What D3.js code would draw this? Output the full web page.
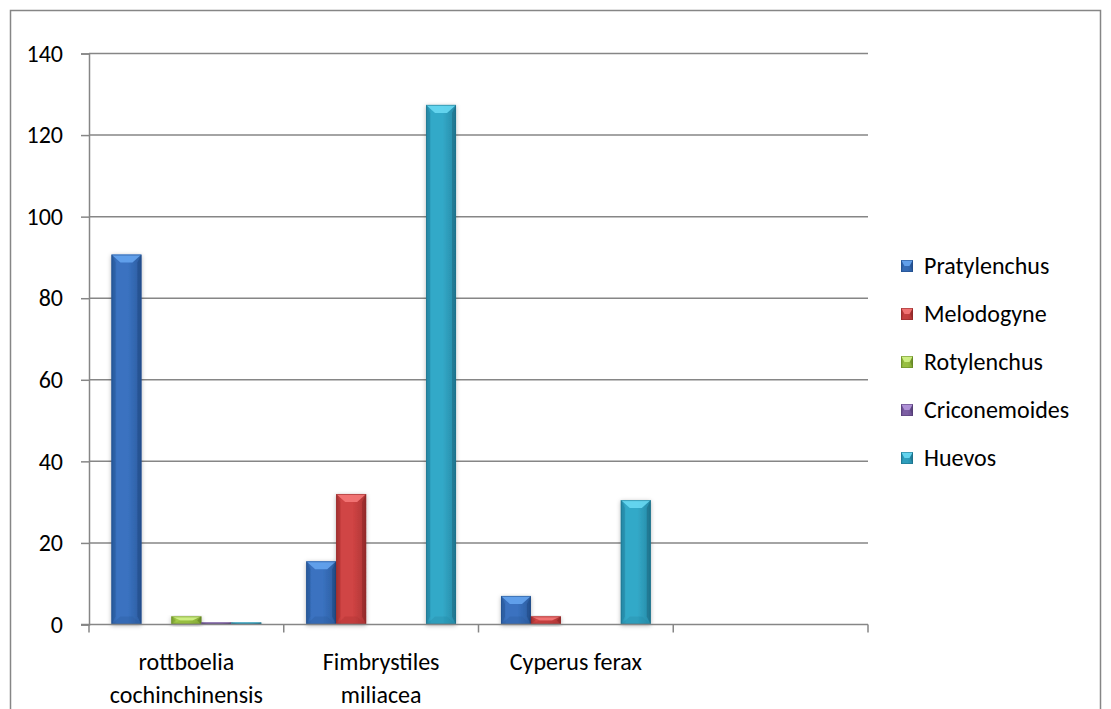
<!DOCTYPE html>
<html>
<head>
<meta charset="utf-8">
<script src="https://cdn.jsdelivr.net/npm/d3@7"></script>
<style>
  html, body { margin: 0; padding: 0; background: #ffffff; }
  svg { display: block; }
  text { font-family: Carlito, Lato, "Liberation Sans", sans-serif; fill: #000; }
</style>
</head>
<body>
<svg id="chart" width="1111" height="709"></svg>
<script>
// Categories (the last slot is an empty category, as in the workbook)
const categories = ["rottboelia cochinchinensis", "Fimbrystiles miliacea", "Cyperus ferax", ""];

// Nematode counts per weed species
const seriesNames = ["Pratylenchus", "Melodogyne", "Rotylenchus", "Criconemoides", "Huevos"];
const pratylenchus  = [90.7, 15.5, 7, null];
const melodogyne    = [0, 32, 2, null];
const rotylenchus   = [2, 0, 0, null];
const criconemoides = [0.5, 0, 0, null];
const huevos        = [0.5, 127.4, 30.5, null];
const yTicks = [0, 20, 40, 60, 80, 100, 120, 140];

const seriesValues = [pratylenchus, melodogyne, rotylenchus, criconemoides, huevos];

// Palette: base, light top bevel, dark side bevel
const palette = [
  { base: "#3a72c0", top: "#66a4ee", side: "#2b5c9f", dark: "#1f4a86" },
  { base: "#d04444", top: "#f47878", side: "#ab3434", dark: "#8a2626" },
  { base: "#a3cb48", top: "#d2f288", side: "#80a534", dark: "#5f7f22" },
  { base: "#8767b0", top: "#b496dc", side: "#664c8c", dark: "#4f3a70" },
  { base: "#33a9c8", top: "#68d8f2", side: "#2689a6", dark: "#1a6b84" }
];

const FONT_SIZE = "24px";

const svg = d3.select("#chart");

// Outer chart border
svg.append("rect")
  .attr("x", 10.5).attr("y", 10.5)
  .attr("width", 1090).attr("height", 730)
  .attr("fill", "#fff").attr("stroke", "#868686").attr("stroke-width", 1.5);

const plot = { left: 89, right: 868, top: 53.5, bottom: 624.5 };

const x0 = d3.scaleBand()
  .domain(d3.range(categories.length))
  .range([plot.left, plot.right])
  .paddingInner(0).paddingOuter(0);

// Gap width of 150% of a bar: 5 bars + 1.5 bar gap per category
const barW = x0.bandwidth() / (seriesNames.length + 1.5);
const x1 = d3.scaleBand()
  .domain(d3.range(seriesNames.length))
  .range([0.75 * barW, 0.75 * barW + barW * seriesNames.length])
  .paddingInner(0).paddingOuter(0);

const y = d3.scaleLinear().domain([0, 140]).range([plot.bottom, plot.top]);

const defs = svg.append("defs");
const shadow = defs.append("filter").attr("id", "barShadow")
  .attr("x", "-30%").attr("y", "-10%").attr("width", "160%").attr("height", "130%");
shadow.append("feDropShadow")
  .attr("dx", 0).attr("dy", 1).attr("stdDeviation", 2.2)
  .attr("flood-color", "#000").attr("flood-opacity", 0.28);

palette.forEach((p, i) => {
  const g = defs.append("linearGradient").attr("id", "grad" + i)
    .attr("x1", 0).attr("x2", 1).attr("y1", 0).attr("y2", 0);
  g.append("stop").attr("offset", "0%").attr("stop-color", p.side);
  g.append("stop").attr("offset", "18%").attr("stop-color", p.base);
  g.append("stop").attr("offset", "55%").attr("stop-color", p.base);
  g.append("stop").attr("offset", "100%").attr("stop-color", p.side);
});

// Gridlines
const grid = svg.append("g");
grid.selectAll("line")
  .data(yTicks.filter(d => d !== 0))
  .join("line")
  .attr("x1", plot.left).attr("x2", plot.right)
  .attr("y1", d => y(d)).attr("y2", d => y(d))
  .attr("stroke", "#868686").attr("stroke-width", 1.5);

// Y axis
const yAxis = svg.append("g")
  .attr("transform", `translate(${plot.left},0)`)
  .call(d3.axisLeft(y).tickValues(yTicks).tickSize(8).tickPadding(18).tickFormat(d3.format("d")));
yAxis.select(".domain").attr("stroke", "#868686").attr("stroke-width", 1.5);
yAxis.selectAll(".tick line").attr("stroke", "#868686").attr("stroke-width", 1.5);
yAxis.selectAll(".tick text")
  .style("font-family", "Carlito, Lato, 'Liberation Sans', sans-serif")
  .style("font-size", FONT_SIZE).attr("fill", "#000");

// Bevelled bar shape
function drawBar(g, bx, by, bw, bh, p, i) {
  if (bh <= 0) return;
  const d = Math.min(8, bh / 2);
  const s = Math.min(4, bw / 4);
  const inset = bw * 0.3;
  const bar = g.append("g").attr("filter", "url(#barShadow)");
  bar.append("rect")
    .attr("x", bx).attr("y", by).attr("width", bw).attr("height", bh)
    .attr("fill", `url(#grad${i})`);
  // top bevel
  bar.append("polygon")
    .attr("points", [[bx, by], [bx + bw, by], [bx + bw - inset, by + d], [bx + inset, by + d]].map(q => q.join(",")).join(" "))
    .attr("fill", p.top).attr("opacity", 0.9);
  // side bevels
  bar.append("polygon")
    .attr("points", [[bx, by], [bx + s, by + d], [bx + s, by + bh - d], [bx, by + bh]].map(q => q.join(",")).join(" "))
    .attr("fill", p.side).attr("opacity", 0.7);
  bar.append("polygon")
    .attr("points", [[bx + bw, by], [bx + bw - s, by + d], [bx + bw - s, by + bh - d], [bx + bw, by + bh]].map(q => q.join(",")).join(" "))
    .attr("fill", p.dark).attr("opacity", 0.6);
  // bottom bevel
  bar.append("polygon")
    .attr("points", [[bx, by + bh], [bx + bw, by + bh], [bx + bw - inset, by + bh - d], [bx + inset, by + bh - d]].map(q => q.join(",")).join(" "))
    .attr("fill", p.side).attr("opacity", 0.35);
  bar.append("rect")
    .attr("x", bx + 0.5).attr("y", by + 0.5).attr("width", Math.max(0, bw - 1)).attr("height", Math.max(0, bh - 1))
    .attr("fill", "none").attr("stroke", p.dark).attr("stroke-width", 1).attr("opacity", 0.5);
}

const bars = svg.append("g");
categories.forEach((c, ci) => {
  seriesValues.forEach((vals, si) => {
    const v = vals[ci];
    if (v == null || v <= 0) return;
    const bx = x0(ci) + x1(si);
    drawBar(bars, bx, y(v), x1.bandwidth(), y(0) - y(v), palette[si], si);
  });
});

// X axis with category boundary ticks
const xAxisG = svg.append("g");
xAxisG.append("line")
  .attr("x1", plot.left - 8).attr("x2", plot.right)
  .attr("y1", y(0)).attr("y2", y(0))
  .attr("stroke", "#868686").attr("stroke-width", 1.5);
xAxisG.selectAll("line.tick")
  .data(d3.range(categories.length + 1))
  .join("line").attr("class", "tick")
  .attr("x1", i => i < categories.length ? x0(i) : plot.right)
  .attr("x2", i => i < categories.length ? x0(i) : plot.right)
  .attr("y1", y(0)).attr("y2", y(0) + 8)
  .attr("stroke", "#868686").attr("stroke-width", 1.5);

// Category labels, wrapped to the category width
const labelG = svg.append("g");
categories.forEach((c, ci) => {
  if (!c) return;
  const cx = x0(ci) + x0.bandwidth() / 2;
  const t = labelG.append("text")
    .attr("x", cx)
    .attr("text-anchor", "middle")
    .style("font-size", FONT_SIZE);
  const words = c.split(" ");
  const lines = [];
  let cur = "";
  const probe = labelG.append("text").style("font-size", FONT_SIZE);
  words.forEach(w => {
    const test = cur ? cur + " " + w : w;
    probe.text(test);
    if (probe.node().getComputedTextLength() > x0.bandwidth() - 20 && cur) {
      lines.push(cur); cur = w;
    } else cur = test;
  });
  lines.push(cur);
  probe.remove();
  lines.forEach((ln, li) => {
    t.append("tspan")
      .attr("x", cx)
      .attr("y", 670 + li * 33)
      .text(ln);
  });
});

// Legend
const legend = svg.append("g");
seriesNames.forEach((name, i) => {
  const ly = 266 + i * 48;
  const g = legend.append("g");
  drawBar(g, 901, ly - 6, 12, 12, palette[i], i);
  g.select("g").attr("filter", null);
  g.append("text")
    .attr("x", 924).attr("y", ly).attr("dy", "0.35em")
    .style("font-size", FONT_SIZE)
    .text(name);
});
</script>
</body>
</html>
